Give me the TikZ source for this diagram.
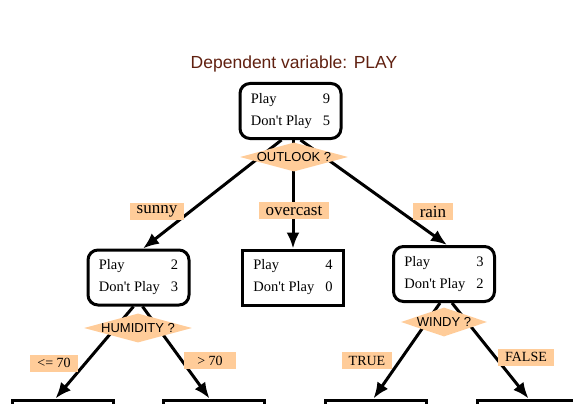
\documentclass[tikz,border=0pt]{standalone}
\usepackage{fontspec}
\setmainfont{Liberation Serif}
\setsansfont{Liberation Sans}
\usetikzlibrary{arrows.meta}
\usetikzlibrary{shapes.geometric}
\definecolor{peach}{RGB}{255, 204, 153}
\definecolor{titlebrown}{RGB}{96, 32, 16}

\newcommand{\playcount}[2]{%
  \begin{tabular}{@{}l@{\hspace{11pt}}r@{}}Play & #1\\[6pt] Don\textquotesingle t Play & #2\end{tabular}}

\tikzset{
  countbox/.style={draw, line width=3pt, rounded corners=10pt, minimum width=101pt,
                   minimum height=55pt, inner sep=0pt, font=\fontsize{14.5}{16}\selectfont},
  leafbox/.style={countbox, rounded corners=0pt},
  test/.style={diamond, fill=peach, minimum width=108pt, minimum height=29pt, inner sep=0pt},
  testlabel/.style={font=\sffamily\fontsize{13}{15}\selectfont, inner sep=0pt},
  branch/.style={fill=peach, inner xsep=7pt, inner ysep=0pt, minimum height=17pt,
                 font=\fontsize{17}{18}\selectfont},
  cut/.style={branch, font=\fontsize{14}{16}\selectfont},
  edge/.style={line width=3pt, -{Latex[length=16pt,width=13pt]}},
}

\begin{document}
\begin{tikzpicture}[x=1pt, y=-1pt]
  \useasboundingbox (0,0) rectangle (573,404);
  \clip (0,0) rectangle (573,404);

  \node[font=\sffamily\fontsize{17.5}{20}\selectfont, text=titlebrown] (title) at (294,64) {Dependent variable: PLAY};

  % boxes
  \node[countbox] (root)     at (290.5,111) {\playcount{9}{5}};
  \node[countbox] (sunny)    at (138.5,277.5) {\playcount{2}{3}};
  \node[leafbox]  (overcast) at (293,277.5) {\playcount{4}{0}};
  \node[countbox] (rain)     at (444,274) {\playcount{3}{2}};
  \node[leafbox]  (leafa)    at (62.5,427.5) {};
  \node[leafbox]  (leafb)    at (213.5,427.5) {};
  \node[leafbox]  (leafc)    at (375.5,427.5) {};
  \node[leafbox]  (leafd)    at (527.5,427.5) {};

  % edges
  \draw[edge] ([xshift=-9pt]root.south) -- ([xshift=4.5pt]sunny.north);
  \draw[edge] ([xshift=2.5pt]root.south) -- (overcast.north);
  \draw[edge] ([xshift=10pt]root.south) -- ([xshift=3pt]rain.north);
  \draw[edge] ([xshift=-5pt]sunny.south) -- ([xshift=-7pt]leafa.north);
  \draw[edge] ([xshift=4pt]sunny.south) -- ([xshift=-4pt]leafb.north);
  \draw[edge] ([xshift=-4pt]rain.south) -- ([xshift=-2pt]leafc.north);
  \draw[edge] ([xshift=8pt]rain.south) -- ([xshift=1pt]leafd.north);

  % tests
  \node[test, label={[testlabel]center:OUTLOOK ?}]  (outlook)  at (294,157) {};
  \node[test, label={[testlabel]center:HUMIDITY ?}] (humidity) at (138,328) {};
  \node[test, minimum width=86pt, label={[testlabel]center:WINDY ?}] (windy) at (444,322) {};

  % branch labels
  \node[branch] (lsunny)    at (157,211.5) {sunny};
  \node[branch] (lovercast) at (294,210.5) {overcast};
  \node[branch] (lrain)     at (433,211.5) {rain};
  \node[cut] (llow)   at (54,363) {<= 70};
  \node[cut, minimum width=52pt] (lhigh)  at (210,360.5) {> 70};
  \node[cut] (ltrue)  at (367,360.5) {TRUE};
  \node[cut] (lfalse) at (526,357) {FALSE};
\end{tikzpicture}
\end{document}
